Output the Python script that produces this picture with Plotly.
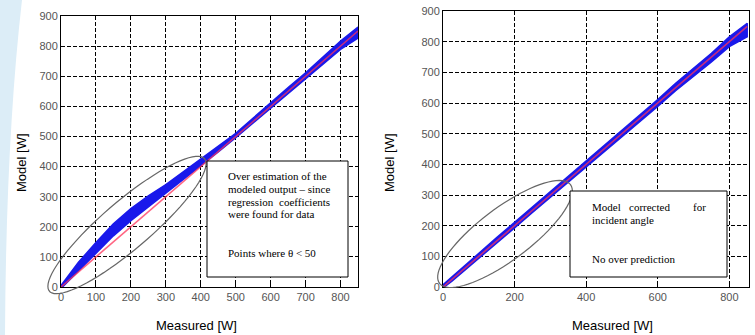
import numpy as np
import plotly.graph_objects as go

W, H = 755, 335

# ---- data ----
measured = [0, 25, 50, 100, 150, 200, 250, 300, 350, 400, 450, 500, 550, 600, 650, 700, 750, 800, 850]
model_left = [0, 35, 68, 130, 190, 240, 285, 325, 370, 413, 458, 503, 552, 603, 652, 700, 752, 803, 845]
spread_left = [5, 10, 14, 18, 20, 20, 18, 15, 12, 10, 9, 7, 9, 10, 10, 11, 12, 14, 18]
model_right = [2, 26, 52, 103, 152, 202, 252, 302, 350, 400, 450, 500, 550, 600, 652, 700, 748, 800, 838]
spread_right = [5, 7, 8, 9, 9, 9, 9, 9, 9, 10, 10, 10, 10, 11, 12, 13, 14, 16, 22]
ref_x = [0, 850]
ref_y = [0, 850]

left_xticks = [0, 100, 200, 300, 400, 500, 600, 700, 800]
right_xticks = [0, 200, 400, 600, 800]
yticks = [0, 100, 200, 300, 400, 500, 600, 700, 800, 900]

note_left = ["Over estimation of the", "modeled output \u2013 since",
             ("regression", "coefficients"), "were found for data", "Points where \u03b8 < 50"]
note_right = [("Model", "corrected", "for"), "incident angle", "No over prediction"]

BLUE = "rgb(25,25,235)"
RED = "rgba(255,50,90,0.75)"


def px(x):
    return x / W


def py(y):
    return 1 - y / H


fig = go.Figure()


def band(mx, my, sp, xa, ya):
    up = [a + s for a, s in zip(my, sp)]
    lo = [a - s for a, s in zip(my, sp)]
    fig.add_trace(go.Scatter(x=mx + mx[::-1], y=up + lo[::-1], fill="toself",
                             fillcolor=BLUE, line=dict(color=BLUE, width=1.5),
                             mode="lines", xaxis=xa, yaxis=ya, showlegend=False, hoverinfo="skip"))
    fig.add_trace(go.Scatter(x=ref_x, y=ref_y, mode="lines", line=dict(color=RED, width=1.6),
                             xaxis=xa, yaxis=ya, showlegend=False))


band(measured, model_left, spread_left, "x", "y")
band(measured, model_right, spread_right, "x2", "y2")

axis_common = dict(showline=True, mirror=True, linecolor="black", linewidth=1, automargin=False,
                   showgrid=True, gridcolor="black", gridwidth=1, griddash="4px,2px",
                   zeroline=False, ticks="inside", ticklen=4, tickcolor="black",
                   tickfont=dict(family="Liberation Sans, Arial", size=11, color="#555"))

fig.update_layout(
    width=W, height=H, margin=dict(l=0, r=0, t=0, b=0, autoexpand=False),
    paper_bgcolor="white", plot_bgcolor="white", showlegend=False,
    xaxis=dict(domain=[px(61), px(358)], range=[0, 850], tickvals=left_xticks, anchor="y", **axis_common),
    yaxis=dict(domain=[py(287), py(16)], range=[0, 900], tickvals=yticks, anchor="x", **axis_common),
    xaxis2=dict(domain=[px(443), px(749)], range=[0, 855], tickvals=right_xticks, anchor="y2", **axis_common),
    yaxis2=dict(domain=[py(287), py(11)], range=[0, 900], tickvals=yticks, anchor="x2", **axis_common),
)

shapes = []
# light blue slide decoration at far left
shapes.append(dict(type="path", xref="paper", yref="paper", layer="below",
                   path=f"M 0,1 L {px(22)},1 Q {px(6)},{py(140)} {px(5)},0 L 0,0 Z",
                   fillcolor="#dcedf7", line=dict(width=0)))


def ellipse(cx, cy, a, b, ang):
    t = np.linspace(0, 2 * np.pi, 80)
    c, s = np.cos(np.radians(ang)), np.sin(np.radians(ang))
    xs = cx + a * np.cos(t) * c + b * np.sin(t) * s
    ys = cy - a * np.cos(t) * s + b * np.sin(t) * c
    p = "M " + " L ".join(f"{px(x):.5f},{py(y):.5f}" for x, y in zip(xs, ys)) + " Z"
    return dict(type="path", xref="paper", yref="paper", path=p,
                line=dict(color="#666", width=1.2))


shapes.append(ellipse(127, 225, 102, 24, 40.5))
shapes.append(ellipse(505, 234, 82, 26, 37))

# note boxes
shapes.append(dict(type="rect", xref="paper", yref="paper", x0=px(207), x1=px(348), y0=py(277), y1=py(161),
                   fillcolor="white", line=dict(color="black", width=1)))
shapes.append(dict(type="rect", xref="paper", yref="paper", x0=px(570), x1=px(727), y0=py(277), y1=py(191),
                   fillcolor="white", line=dict(color="black", width=1)))
fig.update_layout(shapes=shapes)

ann = []
serif = dict(family="Liberation Serif, Times New Roman", size=11, color="black")


def text_line(item, x0, x1, y):
    if isinstance(item, tuple):
        n = len(item)
        for i, w in enumerate(item):
            if i == 0:
                ann.append(dict(x=px(x0), y=py(y), text=w, xanchor="left", yanchor="middle"))
            elif i == n - 1:
                ann.append(dict(x=px(x1), y=py(y), text=w, xanchor="right", yanchor="middle"))
            else:
                ann.append(dict(x=px((x0 + x1) / 2), y=py(y), text=w, xanchor="center", yanchor="middle"))
    else:
        ann.append(dict(x=px(x0), y=py(y), text=item, xanchor="left", yanchor="middle"))


for item, y in zip(note_left, [176, 189, 202, 214, 253]):
    text_line(item, 226, 332, y)
for item, y in zip(note_right, [207, 220, 259]):
    text_line(item, 590, 708, y)

for a in ann:
    a.update(xref="paper", yref="paper", showarrow=False, font=serif)

titles = dict(family="Liberation Sans, Arial", size=13, color="black")
ann += [
    dict(x=px(21), y=py(163), text="Model [W]", textangle=-90, font=titles),
    dict(x=px(389), y=py(163), text="Model [W]", textangle=-90, font=titles),
    dict(x=px(197), y=py(325), text="Measured [W]", font=titles),
    dict(x=px(612), y=py(325), text="Measured [W]", font=titles),
]
for a in ann[-4:]:
    a.update(xref="paper", yref="paper", showarrow=False, xanchor="center", yanchor="middle")

fig.update_layout(annotations=ann)
fig.write_html("out.html", config={"displayModeBar": False},
               post_script="document.body.style.margin='0';document.body.style.overflow='hidden';")
